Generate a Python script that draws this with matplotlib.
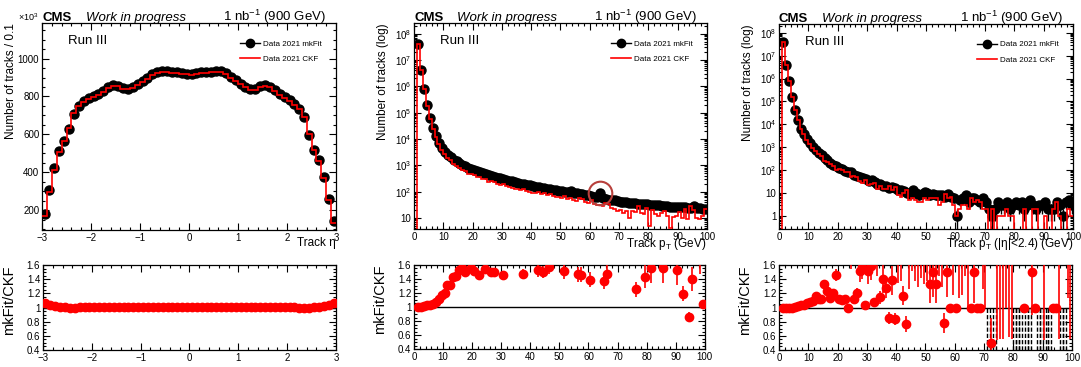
import numpy as np
import matplotlib
matplotlib.use('Agg')
from matplotlib import pyplot as plt
from matplotlib.ticker import MultipleLocator, LogLocator, NullFormatter, FuncFormatter
from matplotlib.lines import Line2D

plt.rcParams['font.family'] = ['Liberation Sans', 'DejaVu Sans']
plt.rcParams['mathtext.fontset'] = 'custom'
plt.rcParams['mathtext.rm'] = 'Liberation Sans'
plt.rcParams['mathtext.it'] = 'Liberation Sans:italic'
plt.rcParams['mathtext.bf'] = 'Liberation Sans:bold'

# ---- data ----
# track eta, 0.1 bins from -3 to 3, in units of 10^3 tracks
eta_edges = np.linspace(-3, 3, 61)
eta_mkfit = [180, 305, 420, 513, 565, 630, 710, 750, 775, 790,
             800, 812, 828, 848, 860, 857, 843, 840, 850, 866,
             882, 898, 920, 930, 934, 932, 930, 927, 924, 921,
             920, 923, 927, 929, 931, 935, 933, 922, 903, 886,
             868, 852, 838, 840, 855, 862, 852, 832, 814, 797,
             780, 760, 735, 690, 595, 520, 465, 375, 260, 140]
eta_ckf = [170, 296, 412, 508, 563, 636, 714, 748, 770, 786,
           796, 808, 824, 845, 856, 853, 840, 837, 846, 862,
           878, 894, 916, 926, 930, 929, 926, 923, 920, 917,
           916, 919, 923, 925, 927, 931, 929, 918, 899, 882,
           864, 848, 834, 836, 851, 858, 848, 828, 810, 793,
           776, 757, 735, 694, 601, 518, 460, 368, 252, 131]

# track pT, 1 GeV bins from 0 to 100
pt_edges = np.linspace(0, 100, 101)
pt_mkfit = [0, 4.2e7, 4.2e6, 8.0e5, 1.9e5, 6.0e4, 2.6e4, 1.25e4, 7.0e3, 4.5e3,
            3.2e3, 2.5e3, 2.0e3, 1.65e3, 1.4e3, 1.2e3, 1.05e3, 920, 820, 730,
            650, 590, 540, 500, 460, 420, 390, 360, 335, 315,
            295, 275, 258, 242, 228, 215, 203, 192, 182, 172,
            163, 155, 148, 141, 135, 129, 123, 118, 113, 108,
            104, 100, 95, 105, 90, 86, 82, 79, 75, 72,
            68, 65, 60, 90, 55, 52, 50, 48, 46, 44,
            42, 41, 39, 38, 37, 36, 35, 34, 33, 33,
            32, 31, 30, 30, 29, 28, 28, 27, 27, 26,
            26, 25, 25, 24, 24, 28, 23, 23, 22, 22]
pt_ckf = [0, 4.2e7, 4.2e6, 7.92e5, 1.86e5, 5.83e4, 2.48e4, 1.16e4, 6.25e3, 3.85e3,
          2.67e3, 1.91e3, 1.52e3, 1.15e3, 972, 784, 677, 613, 480, 470,
          428, 350, 372, 290, 297, 240, 260, 240, 190, 180,
          203, 160, 150, 140, 130, 125, 115, 131, 105, 100,
          92, 90, 97, 80, 90, 72, 78, 66, 63, 60,
          58, 66, 52, 55, 48, 45, 56, 54, 40, 37,
          49, 33, 30, 32, 28, 38, 34, 24, 22, 18,
          20, 16, 19, 10, 18, 17, 28, 16, 14, 23,
          5, 20, 14, 12, 15, 18, 12, 4, 11, 12,
          17, 10, 21, 9, 28, 20, 10, 9, 12, 21]

# track pT with |eta|<2.4, 1 GeV bins from 0 to 100
pt24_mkfit = [0, 4.0e7, 4.0e6, 7.5e5, 1.5e5, 4.3e4, 1.6e4, 6.5e3, 3.8e3, 2.3e3,
              1.5e3, 1.05e3, 760, 560, 450, 340, 270, 215, 175, 150,
              125, 110, 92, 80, 85, 64, 58, 50, 45, 40,
              35, 38, 30, 26, 24, 21, 20, 17, 18, 16,
              14, 13, 12, 10, 9, 13, 10, 8, 9, 11,
              10, 8, 9, 8, 8, 8, 7, 9, 7, 6,
              1, 5, 6, 8, 4, 6, 6, 5, 4, 6,
              4, 2, 1, 2, 4, 3, 3, 4, 2, 3,
              4, 3, 4, 2, 3, 5, 3, 2, 3, 3,
              4, 2, 2, 2, 4, 3, 1, 4, 5, 3]
pt24_ckf = [0, 4.0e7, 4.0e6, 7.5e5, 1.5e5, 4.26e4, 1.57e4, 6.3e3, 3.65e3, 2.17e3,
            1.39e3, 963, 655, 500, 402, 256, 218, 190, 146, 103,
            112, 100, 82, 81, 50, 57, 48, 33, 28.5, 38.5,
            23, 24, 28, 15, 21, 15, 15.6, 20, 13, 19,
            8, 7, 10.3, 13, 5, 6, 5, 4, 4, 6,
            5, 6, 6, 6, 3, 4, 9, 6, 7, 3,
            1, 2, 3, 3, 2, 6, 4, 5, 4, 2,
            2, 0, 2, 0, 1, 1, 1, 2, 1, 1,
            0, 0, 0, 2, 0, 0, 2, 2, 0, 0,
            1, 0, 0, 2, 4, 1, 0, 0, 2, 1]

leg_labels = ['Data 2021 mkFit', 'Data 2021 CKF']


def root_style(ax):
    ax.tick_params(which='both', direction='in', top=True, right=True,
                   labelsize=7, width=0.8, pad=2)
    ax.tick_params(which='major', length=5)
    ax.tick_params(which='minor', length=2.5)
    for s in ax.spines.values():
        s.set_linewidth(0.9)


def log_label(v, pos):
    n = int(round(np.log10(v)))
    if n == 0:
        return '1'
    if n == 1:
        return '10'
    return r'$10^{%d}$' % n


def ratio_of(num, den, scale):
    # ROOT Divide with binomial errors
    a = np.asarray(num, float) * scale
    b = np.asarray(den, float) * scale
    ok = (a > 0) & (b > 0)
    r = np.full(len(a), np.nan)
    e = np.full(len(a), np.nan)
    r[ok] = a[ok] / b[ok]
    e[ok] = np.sqrt(np.abs((1 - 2 * r[ok]) * a[ok] + r[ok] ** 2 * b[ok])) / b[ok]
    return r, e


def draw_column(top_rect, bot_rect, edges, mkfit, ckf, scale, logy, ylim,
                xlabel, ylabel, xmajor, xminor):
    ax = fig.add_axes(top_rect)
    axr = fig.add_axes(bot_rect)
    centers = 0.5 * (edges[1:] + edges[:-1])
    mk = np.asarray(mkfit, float)
    ck = np.asarray(ckf, float)
    sel = mk > 0
    err = np.sqrt(mk * scale) / scale
    ax.errorbar(centers[sel], mk[sel], yerr=err[sel], fmt='o', color='black',
                ms=6.5, elinewidth=1, capsize=0, zorder=2)
    ax.stairs(ck, edges, color='red', lw=1.2, baseline=None, zorder=3)
    if logy:
        ax.set_yscale('log')
        ax.yaxis.set_major_locator(LogLocator(base=10, numticks=20))
        ax.yaxis.set_minor_locator(LogLocator(base=10, subs=np.arange(2, 10), numticks=20))
        ax.yaxis.set_minor_formatter(NullFormatter())
        ax.yaxis.set_major_formatter(FuncFormatter(log_label))
    else:
        ax.yaxis.set_major_locator(MultipleLocator(200))
        ax.yaxis.set_minor_locator(MultipleLocator(50))
    ax.set_ylim(*ylim)
    ax.set_xlim(edges[0], edges[-1])
    for a in (ax, axr):
        a.xaxis.set_major_locator(MultipleLocator(xmajor))
        a.xaxis.set_minor_locator(MultipleLocator(xminor))
        root_style(a)
    ax.set_ylabel(ylabel, fontsize=8.5, loc='top')
    ax.yaxis.set_label_coords(-0.085, 1.0)
    ax.set_xlabel(xlabel, fontsize=8.5, loc='right')
    ax.xaxis.set_label_coords(1.0, -0.035)

    ax.text(0.0, 1.012, 'CMS', transform=ax.transAxes, fontsize=9.5,
            fontweight='bold', va='baseline', ha='left')
    ax.text(0.148, 1.012, 'Work in progress', transform=ax.transAxes,
            fontsize=9.5, style='italic', va='baseline', ha='left')
    ax.text(0.964, 1.012, r'1 nb$^{-1}$ (900 GeV)', transform=ax.transAxes,
            fontsize=9.5, va='baseline', ha='right')
    ax.text(0.088, 0.912, 'Run III', transform=ax.transAxes, fontsize=9.5,
            va='center', ha='left')
    handles = [Line2D([], [], color='black', marker='o', ms=6, lw=1),
               Line2D([], [], color='red', lw=1.2)]
    ax.legend(handles, leg_labels, loc='upper left', bbox_to_anchor=(0.672, 0.918),
              frameon=False, fontsize=5.8, handlelength=2.5, handletextpad=0.4,
              labelspacing=0.95, borderpad=0, borderaxespad=0)

    # ratio panel
    r, e = ratio_of(mk, ck, scale)
    axr.axhline(1.0, color='black', lw=1, zorder=1)
    empty = (mk > 0) & (ck == 0)
    for i in np.where(empty)[0]:
        axr.vlines([edges[i], edges[i + 1]], 0.4, 1.0, colors='black',
                   linestyles=(0, (3, 1.5)), lw=1, zorder=1)
    axr.errorbar(centers, r, yerr=e, fmt='o', color='red', ms=6,
                 elinewidth=1.2, capsize=0, zorder=3)
    axr.set_xlim(edges[0], edges[-1])
    axr.set_ylim(0.4, 1.6)
    axr.yaxis.set_major_locator(MultipleLocator(0.2))
    axr.yaxis.set_minor_locator(MultipleLocator(0.05))
    axr.yaxis.set_major_formatter(FuncFormatter(lambda v, p: '%g' % round(v, 1)))
    axr.set_ylabel('mkFit/CKF', fontsize=10.5, loc='top')
    axr.yaxis.set_label_coords(-0.092, 1.0)
    return ax, axr, centers


fig = plt.figure(figsize=(10.81, 3.67), dpi=100)

ax1, axr1, c1 = draw_column([0.0389, 0.3733, 0.272, 0.564], [0.0398, 0.0463, 0.271, 0.2316],
                            eta_edges, eta_mkfit, eta_ckf, 1000.0, False, (95, 1188),
                            'Track η', 'Number of tracks / 0.1', 1, 0.2)
ax1.text(-0.012, 1.0, r'$\times10^{3}$', transform=ax1.transAxes, fontsize=6.5,
         ha='right', va='bottom')

ax2, axr2, c2 = draw_column([0.383, 0.376, 0.271, 0.561], [0.383, 0.049, 0.269, 0.229],
                            pt_edges, pt_mkfit, pt_ckf, 1.0, True, (3.8, 2.5e8),
                            r'Track p$_\mathrm{T}$ (GeV)', 'Number of tracks (log)', 10, 2)
# circled outlier
ax2.plot(c2[63], pt_mkfit[63], 'o', mfc='none', mec='#b8403c', mew=1.5, ms=17, zorder=4)

ax3, axr3, c3 = draw_column([0.7206, 0.376, 0.272, 0.5586], [0.7206, 0.0463, 0.271, 0.2316],
                            pt_edges, pt24_mkfit, pt24_ckf, 1.0, True, (0.27, 2.4e8),
                            r'Track p$_\mathrm{T}$ (|η|<2.4) (GeV)', 'Number of tracks (log)', 10, 2)

fig.savefig('out.png', dpi=100)
